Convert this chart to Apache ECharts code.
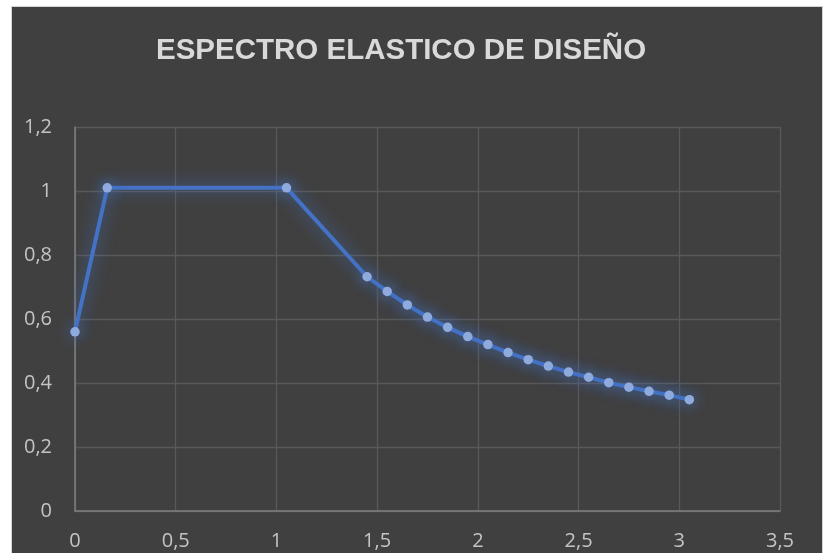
<!DOCTYPE html>
<html>
<head>
<meta charset="utf-8">
<title>Espectro elástico de diseño</title>
<script src="https://cdn.jsdelivr.net/npm/echarts@6/dist/echarts.min.js"></script>
<style>
  html, body { margin: 0; padding: 0; width: 827px; height: 553px; background: #ffffff; overflow: hidden; }
  #panel { position: absolute; left: 11px; top: 6px; width: 812px; height: 549px; background: #404040; border: 1px solid #d4d4d4; box-sizing: border-box; }
  #chart { position: absolute; left: 0; top: 0; width: 827px; height: 553px; }
</style>
</head>
<body>
<div id="panel"></div>
<div id="chart"></div>
<script>
// Período T (s)
const periods = [0, 0.16, 1.05, 1.45, 1.55, 1.65, 1.75, 1.85, 1.95, 2.05, 2.15, 2.25, 2.35, 2.45, 2.55, 2.65, 2.75, 2.85, 2.95, 3.05];
// Aceleración espectral Sa (g)
const saValues = [0.56, 1.01, 1.01, 0.732, 0.686, 0.644, 0.606, 0.574, 0.545, 0.520, 0.495, 0.473, 0.453, 0.434, 0.418, 0.401, 0.387, 0.374, 0.362, 0.348];

const chartTitle = 'ESPECTRO ELASTICO DE DISEÑO';
const xTicks = { min: 0, max: 3.5, step: 0.5 };
const yTicks = { min: 0, max: 1.2, step: 0.2 };

const points = periods.map((t, i) => [t, saValues[i]]);
const comma = v => String(Math.round(v * 10) / 10).replace('.', ',');

const labelFont = { color: '#c4c4c4', fontSize: 20, fontFamily: 'Open Sans' };

const chart = echarts.init(document.getElementById('chart'), null, { renderer: 'canvas' });
chart.setOption({
  backgroundColor: 'transparent',
  animation: false,
  title: {
    text: chartTitle,
    left: 156,
    top: 36,
    padding: 0,
    textStyle: { color: '#d9d9d9', fontSize: 29.5, fontWeight: 'bold', fontFamily: 'Liberation Sans' }
  },
  grid: { left: 75, right: 47, top: 127, bottom: 42, containLabel: false },
  xAxis: {
    type: 'value',
    min: xTicks.min, max: xTicks.max, interval: xTicks.step,
    axisLine: { show: true, lineStyle: { color: '#7f7f7f', width: 1.5 } },
    axisTick: { show: false },
    splitLine: { show: true, lineStyle: { color: '#595959', width: 1.3 } },
    axisLabel: Object.assign({ margin: 20, formatter: comma }, labelFont)
  },
  yAxis: {
    type: 'value',
    min: yTicks.min, max: yTicks.max, interval: yTicks.step,
    axisLine: { show: true, lineStyle: { color: '#7f7f7f', width: 1.5 } },
    axisTick: { show: false },
    splitLine: { show: true, lineStyle: { color: '#595959', width: 1.3 } },
    axisLabel: Object.assign({ margin: 23, formatter: comma }, labelFont)
  },
  series: [{
    type: 'line',
    data: points,
    symbol: 'circle',
    symbolSize: 9.5,
    lineStyle: {
      color: '#4472c4', width: 4,
      shadowColor: 'rgba(68,114,196,0.95)', shadowBlur: 16
    },
    itemStyle: {
      color: '#8faadc', borderWidth: 0,
      shadowColor: 'rgba(68,114,196,1)', shadowBlur: 14
    },
    z: 3
  }]
});
</script>
</body>
</html>
